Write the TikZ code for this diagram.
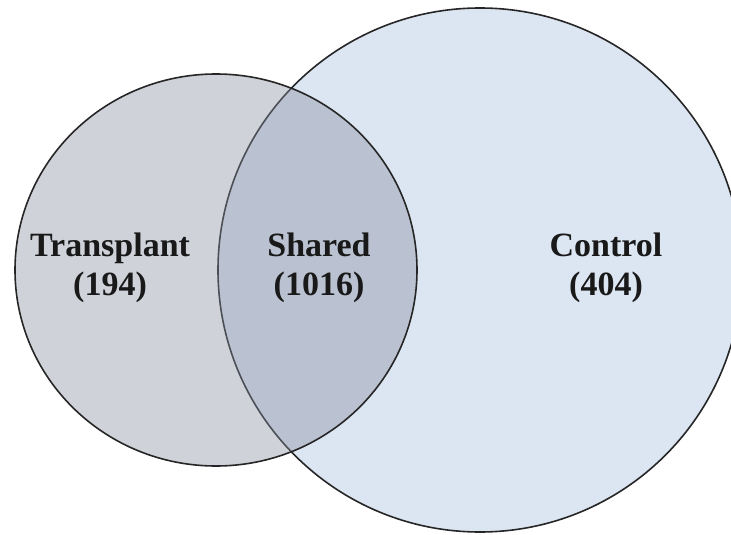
\documentclass[tikz,border=0pt]{standalone}
\usepackage{fontspec}
\setmainfont{Liberation Serif}
\definecolor{ctrlfill}{RGB}{220,230,242}
\definecolor{tranfill}{RGB}{135,142,160}
\begin{document}
\begin{tikzpicture}[x=1pt, y=-1pt,
    setring/.style={line width=1.6pt, draw=black!85},
    setname/.style={align=center, inner sep=0,
      font=\fontsize{34}{39}\selectfont\bfseries, text=black!90}]
  \useasboundingbox (0,0) rectangle (731,535);
  \clip (0,0) rectangle (731,535);

  % Control set
  \draw[setring, fill=ctrlfill] (480,270) circle[radius=262];
  % Transplant set, see-through so the overlap comes out darker
  \draw[setring, fill=tranfill, fill opacity=0.4] (216,270) ellipse[x radius=201, y radius=196];

  % Set labels
  \node[setname] (transplant) at (110,268) {Transplant\\(194)};
  \node[setname] (shared) at (319,268) {Shared\\(1016)};
  \node[setname] (control) at (606,268) {Control\\(404)};
\end{tikzpicture}
\end{document}
